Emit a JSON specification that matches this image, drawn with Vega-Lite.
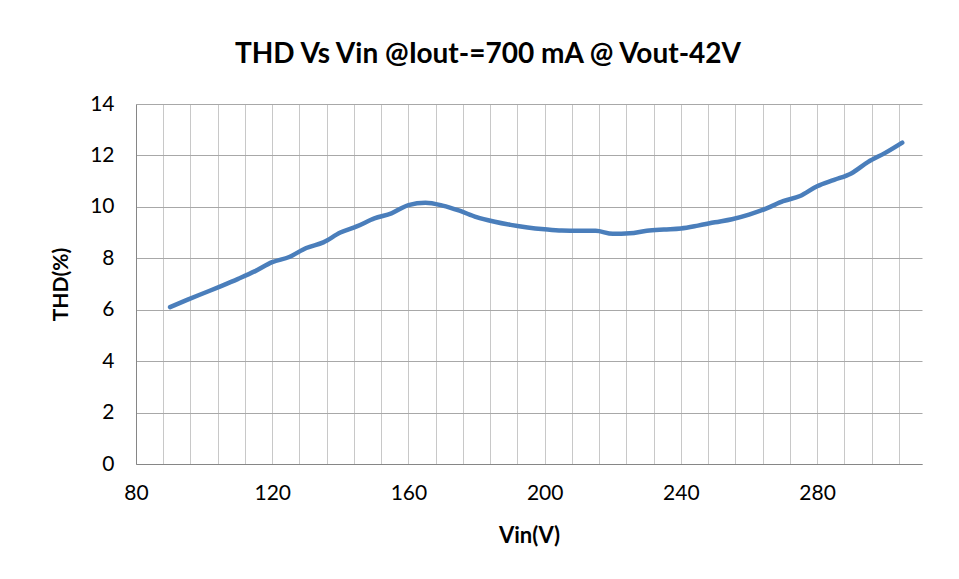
{
  "$schema": "https://vega.github.io/schema/vega-lite/v6.json",
  "autosize": {"type": "none"},
  "width": 786,
  "height": 360,
  "padding": {"left": 136, "top": 104, "right": 37, "bottom": 115},
  "background": "white",
  "config": {
    "view": {"stroke": null},
    "font": "Lato"
  },
  "title": {
    "text": "THD Vs Vin @Iout-=700 mA @ Vout-42V",
    "font": "Lato",
    "fontSize": 28,
    "fontWeight": "bold",
    "color": "#000000",
    "anchor": "middle",
    "dx": -41,
    "offset": 24
  },
  "data": {
    "values": [
      {"vin": 90, "thd": 6.1},
      {"vin": 95, "thd": 6.38},
      {"vin": 100, "thd": 6.65},
      {"vin": 105, "thd": 6.92},
      {"vin": 110, "thd": 7.2},
      {"vin": 115, "thd": 7.5},
      {"vin": 120, "thd": 7.85},
      {"vin": 125, "thd": 8.05},
      {"vin": 130, "thd": 8.4},
      {"vin": 135, "thd": 8.62},
      {"vin": 140, "thd": 9.0},
      {"vin": 145, "thd": 9.25},
      {"vin": 150, "thd": 9.55},
      {"vin": 155, "thd": 9.75},
      {"vin": 160, "thd": 10.07},
      {"vin": 165, "thd": 10.16},
      {"vin": 170, "thd": 10.05},
      {"vin": 175, "thd": 9.85},
      {"vin": 180, "thd": 9.6},
      {"vin": 185, "thd": 9.43},
      {"vin": 190, "thd": 9.3},
      {"vin": 195, "thd": 9.2},
      {"vin": 200, "thd": 9.13},
      {"vin": 205, "thd": 9.08},
      {"vin": 210, "thd": 9.07},
      {"vin": 215, "thd": 9.07},
      {"vin": 220, "thd": 8.95},
      {"vin": 225, "thd": 8.97},
      {"vin": 230, "thd": 9.07},
      {"vin": 235, "thd": 9.12},
      {"vin": 240, "thd": 9.16},
      {"vin": 245, "thd": 9.27},
      {"vin": 250, "thd": 9.4},
      {"vin": 255, "thd": 9.52},
      {"vin": 260, "thd": 9.7},
      {"vin": 265, "thd": 9.93},
      {"vin": 270, "thd": 10.22},
      {"vin": 275, "thd": 10.42},
      {"vin": 280, "thd": 10.8},
      {"vin": 285, "thd": 11.05},
      {"vin": 290, "thd": 11.3},
      {"vin": 295, "thd": 11.75},
      {"vin": 300, "thd": 12.1},
      {"vin": 305, "thd": 12.5}
    ]
  },
  "mark": {"type": "line", "color": "#4a7ebb", "strokeWidth": 4.5, "interpolate": "monotone", "strokeCap": "round"},
  "encoding": {
    "x": {
      "field": "vin",
      "type": "quantitative",
      "scale": {"domain": [80, 310.8], "nice": false, "zero": false},
      "axis": {
        "title": "Vin(V)",
        "values": [80, 88, 96, 104, 112, 120, 128, 136, 144, 152, 160, 168, 176, 184, 192, 200, 208, 216, 224, 232, 240, 248, 256, 264, 272, 280, 288, 296, 304],
        "labelExpr": "datum.value % 40 == 0 ? datum.label : ''",
        "labelFont": "Lato",
        "labelFontSize": 21,
        "labelColor": "#000000",
        "labelPadding": 18,
        "labelFlush": false,
        "labelOverlap": false,
        "ticks": false,
        "grid": true,
        "gridColor": "#c8c8c8",
        "gridWidth": 1,
        "domain": true,
        "domainColor": "#868686",
        "domainWidth": 1,
        "titleFont": "Lato",
        "titleFontSize": 22,
        "titleFontWeight": "bold",
        "titleColor": "#000000",
        "titlePadding": 22
      }
    },
    "y": {
      "field": "thd",
      "type": "quantitative",
      "scale": {"domain": [0, 14], "nice": false},
      "axis": {
        "title": "THD(%)",
        "values": [0, 2, 4, 6, 8, 10, 12, 14],
        "labelFont": "Lato",
        "labelFontSize": 21,
        "labelColor": "#000000",
        "labelPadding": 22,
        "ticks": false,
        "grid": true,
        "gridColor": "#a8a8a8",
        "gridWidth": 1,
        "domain": true,
        "domainColor": "#868686",
        "domainWidth": 1,
        "titleFont": "Lato",
        "titleFontSize": 21,
        "titleFontWeight": "bold",
        "titleColor": "#000000",
        "titlePadding": 18
      }
    }
  }
}
